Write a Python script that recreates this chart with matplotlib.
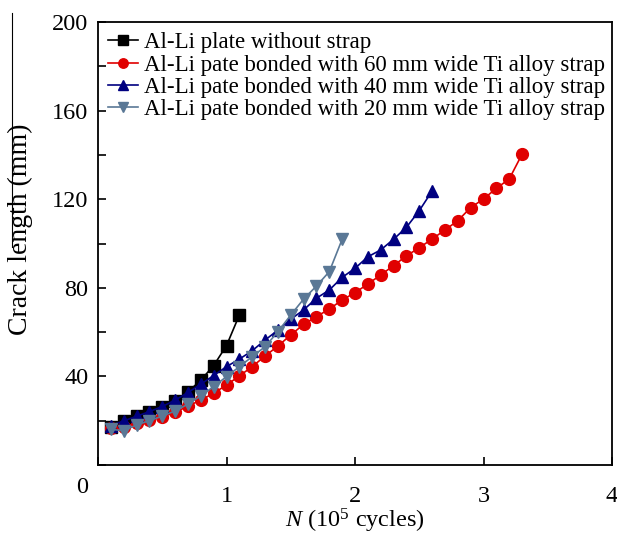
import numpy as np
import matplotlib.pyplot as plt
from matplotlib.lines import Line2D

plt.rcParams['font.family'] = ['Liberation Serif', 'DejaVu Serif']
plt.rcParams['mathtext.fontset'] = 'custom'
plt.rcParams['mathtext.rm'] = 'Liberation Serif'
plt.rcParams['mathtext.it'] = 'Liberation Serif:italic'

# Crack length (mm) vs N (1e5 cycles).
n_bare = np.arange(1, 12) / 10
len_bare = [17.3, 19.7, 22.0, 23.9, 26.4, 29.1, 33.0, 38.3, 44.9, 53.9, 67.7]

n_60 = np.arange(1, 34) / 10
len_60 = [16.6, 17.3, 18.8, 20.3, 21.8, 23.8, 26.6, 29.3, 32.4, 36.1,
          40.2, 44.4, 49.2, 53.7, 58.7, 63.5, 67.0, 70.4, 74.5, 77.8,
          81.7, 85.8, 90.0, 94.4, 98.1, 102.0, 106.1, 110.3, 116.2, 120.1,
          124.9, 129.1, 140.3]

n_40 = np.arange(1, 27) / 10
len_40 = [17.8, 19.9, 22.0, 24.1, 26.4, 29.3, 32.7, 36.5, 40.4, 44.4,
          47.8, 51.6, 56.4, 60.9, 65.8, 70.0, 75.3, 79.0, 84.7, 88.8,
          94.0, 97.1, 101.9, 107.3, 114.8, 123.7]

n_20 = np.arange(1, 20) / 10
len_20 = [16.1, 15.5, 18.1, 20.0, 22.1, 24.4, 27.5, 31.2, 35.4, 39.9,
          44.4, 48.9, 53.4, 60.2, 67.7, 74.9, 80.8, 87.3, 101.9]

labels = ['Al-Li plate without strap',
          'Al-Li pate bonded with 60 mm wide Ti alloy strap',
          'Al-Li pate bonded with 40 mm wide Ti alloy strap',
          'Al-Li pate bonded with 20 mm wide Ti alloy strap']

fig = plt.figure(figsize=(6.17, 5.37), dpi=100)
ax = fig.add_axes([98/617, 1 - 465/537, 514/617, 443/537])

lw = 1.2
ax.plot(n_bare, len_bare, 's-', color='black', ms=8.5, lw=lw, label=labels[0])
ax.plot(n_60, len_60, 'o-', color='#e00000', ms=8.5, lw=lw, label=labels[1])
ax.plot(n_40, len_40, '^-', color='#000080', ms=9, lw=lw, label=labels[2])
ax.plot(n_20, len_20, 'v-', color='#5a7896', ms=9, lw=lw, label=labels[3])

ax.set_xlim(0, 4)
ax.set_ylim(0, 200)
ax.set_xticks([0, 1, 2, 3, 4])
ax.set_xticklabels(['', '1', '2', '3', '4'])
ax.set_yticks([0, 40, 80, 120, 160, 200])
ax.set_yticklabels(['', '40', '80', '120', '160', '200'])
ax.set_yticks(np.arange(20, 200, 40), minor=True)
ax.tick_params(which='both', direction='in', length=6, width=1.2,
               labelsize=17.5, top=False, right=False)
ax.tick_params(axis='y', pad=7)
ax.tick_params(axis='x', pad=15)
for s in ax.spines.values():
    s.set_linewidth(1.3)

# shared origin label
ax.text(-0.031, -0.05, '0', transform=ax.transAxes, fontsize=17.5,
        ha='center', va='center')

ax.set_ylabel('Crack length (mm)', fontsize=20)
ax.yaxis.set_label_coords(-0.126, 0.533)
ax.set_xlabel(r'$N$ (10$^5$ cycles)', fontsize=17.5)
ax.xaxis.set_label_coords(0.5, -0.094)

ax.legend(loc='upper left', bbox_to_anchor=(0.0, 1.0), frameon=False,
          fontsize=16.5, handlelength=1.3, handletextpad=0.25,
          labelspacing=0.05, borderaxespad=0.15, borderpad=0.3,
          markerscale=0.8)

# stray vertical stroke left of the y label in the original
fig.add_artist(Line2D([12/617, 12/617], [1 - 13/537, 1 - 247/537],
                      color='black', lw=0.8))

fig.savefig('out.png', dpi=100)
